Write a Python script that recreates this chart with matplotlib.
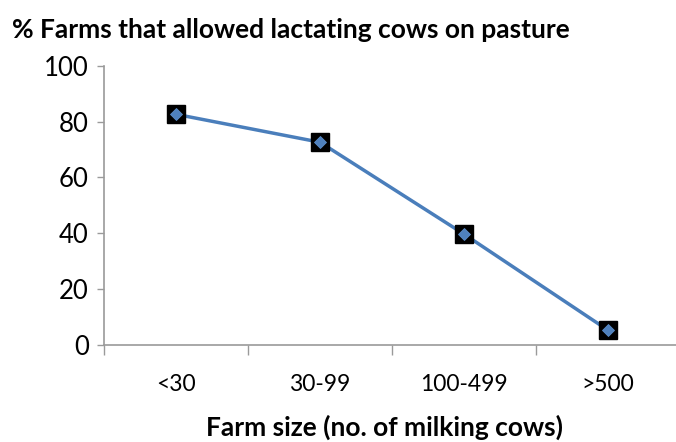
import matplotlib
matplotlib.use("Agg")
import matplotlib.pyplot as plt
from matplotlib import font_manager

categories = ["<30", "30-99", "100-499", ">500"]
pct_pasture = [82.6, 72.6, 39.7, 5.3]
y_ticks = [0, 20, 40, 60, 80, 100]

title_text = "% Farms that allowed lactating cows on pasture"
xlabel_text = "Farm size (no. of milking cows)"

installed = {f.name for f in font_manager.fontManager.ttflist}
font = "Lato" if "Lato" in installed else "DejaVu Sans"

W, H = 676, 442
fig = plt.figure(figsize=(W / 100, H / 100), dpi=100)
fig.patch.set_facecolor("white")

# plot area in pixel coordinates (left, top, right, bottom)
left, top, right, bottom = 104, 65.7, 680, 345
ax = fig.add_axes([left / W, (H - bottom) / H, (right - left) / W, (bottom - top) / H])

x = list(range(len(categories)))
line_color = "#4A7EBB"
ax.plot(x, pct_pasture, color=line_color, lw=2.5, zorder=2, solid_capstyle="round")
ax.plot(x, pct_pasture, ls="none", marker="s", ms=12.5, mfc="black", mec="black", zorder=3)
ax.plot(x, pct_pasture, ls="none", marker="D", ms=6.5, mfc="#4F81BD", mec="#5B8CC8", mew=0.6, zorder=4)

ax.set_xlim(-0.5, len(categories) - 0.5)
ax.set_ylim(0, 100)

axis_gray = "#9A9A9A"
for side in ("top", "right"):
    ax.spines[side].set_visible(False)
for side in ("left", "bottom"):
    ax.spines[side].set_color(axis_gray)
    ax.spines[side].set_linewidth(1.2)

ax.set_yticks(y_ticks)
ax.set_yticklabels([str(v) for v in y_ticks], fontsize=18.5, fontfamily=font)
ax.tick_params(axis="y", length=5, width=1, color=axis_gray, pad=6)

# category boundaries carry the tick marks; labels sit at the centres
ax.set_xticks([i - 0.5 for i in range(len(categories) + 1)])
ax.set_xticklabels([])
ax.set_xticks(x, minor=True)
ax.set_xticklabels(categories, minor=True, fontsize=16.5, fontfamily=font)
ax.tick_params(axis="x", which="major", length=7, width=1, color=axis_gray)
ax.tick_params(axis="x", which="minor", length=0, pad=21)

fig.text(12 / W, 1 - 30 / H, title_text, fontsize=19, fontweight="bold",
         fontfamily=font, ha="left", va="center")
fig.text(385 / W, 1 - 427 / H, xlabel_text, fontsize=19, fontweight="bold",
         fontfamily=font, ha="center", va="center")

fig.savefig("out.png", dpi=100, facecolor="white")
